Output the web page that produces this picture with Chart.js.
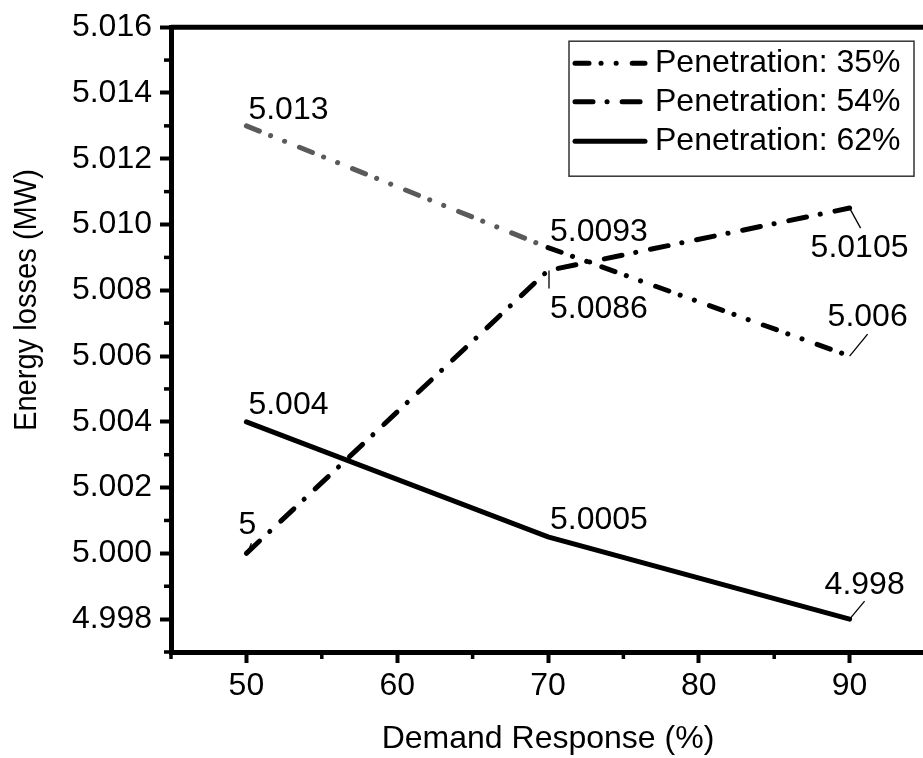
<!DOCTYPE html>
<html>
<head>
<meta charset="utf-8">
<script src="https://cdn.jsdelivr.net/npm/chart.js@4.4.1/dist/chart.umd.min.js"></script>
<style>
  html, body { margin: 0; padding: 0; background: #fff; overflow: hidden; }
</style>
</head>
<body>
<canvas id="lossChart" width="932" height="758"></canvas>
<script>
// data
const demandResponse = [50, 70, 90];
const pen35 = [5.013, 5.0093, 5.006];
const pen54 = [5.000, 5.0086, 5.0105];
const pen62 = [5.004, 5.0005, 4.998];
const seriesNames = ['Penetration: 35%', 'Penetration: 54%', 'Penetration: 62%'];

const xMajorTicks = [50, 60, 70, 80, 90];
const xMinorTicks = [45, 55, 65, 75, 85, 95];
const yMajorTicks = [4.998, 5.000, 5.002, 5.004, 5.006, 5.008, 5.010, 5.012, 5.014, 5.016];
const yMinorTicks = [4.997, 4.999, 5.001, 5.003, 5.005, 5.007, 5.009, 5.011, 5.013, 5.015];

const FONT = '"Liberation Sans", Arial, sans-serif';
Chart.defaults.font.family = FONT;
Chart.defaults.color = '#000';

const toPoints = ys => demandResponse.map((x, i) => ({ x: x, y: ys[i] }));

// where each value label sits relative to its point: [dx, dy, leader line or null]
const labelPlaces = [
  [[2, -7, null], [2, -7, null], [-22, -30, [0, 0, 18, -22]]],
  [[-8, -19, [1, 0, 5, -10]], [2, 47, [1, 0, 1, 18]], [-39, 49, [0, 0, 11, 20]]],
  [[2, -8, null], [2, -8, null], [-25, -25, [0, 0, 15, -18]]]
];

const extras = {
  id: 'extras',
  afterDatasetsDraw(chart) {
    const ctx = chart.ctx;
    const area = chart.chartArea;
    const xs = chart.scales.x, ys = chart.scales.y;

    ctx.save();
    ctx.strokeStyle = '#000';

    // top frame line
    ctx.lineWidth = 5;
    ctx.beginPath();
    ctx.moveTo(area.left, area.top);
    ctx.lineTo(area.right + 10, area.top);
    ctx.stroke();

    // minor ticks
    ctx.lineWidth = 3.5;
    xMinorTicks.forEach(v => {
      const px = xs.getPixelForValue(v);
      ctx.beginPath();
      ctx.moveTo(px, area.bottom);
      ctx.lineTo(px, area.bottom + 7);
      ctx.stroke();
    });
    yMinorTicks.forEach(v => {
      const py = ys.getPixelForValue(v);
      ctx.beginPath();
      ctx.moveTo(area.left, py);
      ctx.lineTo(area.left - 7, py);
      ctx.stroke();
    });

    // value labels
    ctx.fillStyle = '#000';
    ctx.font = '32px ' + FONT;
    ctx.textAlign = 'left';
    ctx.textBaseline = 'alphabetic';
    ctx.lineWidth = 1.3;
    chart.data.datasets.forEach((ds, di) => {
      const meta = chart.getDatasetMeta(di);
      meta.data.forEach((pt, i) => {
        const [dx, dy, lead] = labelPlaces[di][i];
        ctx.fillText(String(ds.data[i].y), pt.x + dx, pt.y + dy);
        if (lead) {
          ctx.beginPath();
          ctx.moveTo(pt.x + lead[0], pt.y + lead[1]);
          ctx.lineTo(pt.x + lead[2], pt.y + lead[3]);
          ctx.stroke();
        }
      });
    });

    // legend
    const lx = area.right - 356, ly = area.top + 14;
    ctx.lineWidth = 1.5;
    ctx.strokeStyle = '#333';
    ctx.strokeRect(lx, ly, 345, 135);
    const rows = [22, 60.5, 100];
    chart.data.datasets.forEach((ds, di) => {
      const ry = ly + rows[di];
      ctx.save();
      ctx.strokeStyle = '#000';
      ctx.lineWidth = ds.borderWidth;
      ctx.lineCap = ds.borderCapStyle;
      ctx.setLineDash(ds.borderDash || []);
      ctx.beginPath();
      ctx.moveTo(lx + 6, ry);
      ctx.lineTo(lx + 76, ry);
      ctx.stroke();
      ctx.restore();
      ctx.textBaseline = 'middle';
      ctx.fillText(ds.label, lx + 86, ry);
    });

    // y axis title
    ctx.save();
    ctx.translate(27, 300);
    ctx.rotate(-Math.PI / 2);
    ctx.textAlign = 'center';
    ctx.textBaseline = 'middle';
    ctx.fillText('Energy losses (MW)', 0, 0, 262);
    ctx.restore();

    ctx.restore();
  }
};

new Chart(document.getElementById('lossChart').getContext('2d'), {
  type: 'line',
  data: {
    datasets: [
      {
        label: seriesNames[0],
        data: toPoints(pen35),
        borderColor: '#000',
        borderWidth: 5,
        borderDash: [14, 12, 0.1, 15, 0.1, 16],
        borderCapStyle: 'round',
        segment: {
          borderColor: c => c.p0DataIndex === 0 ? '#5a5a5a' : '#000'
        }
      },
      {
        label: seriesNames[1],
        data: toPoints(pen54),
        borderColor: '#000',
        borderWidth: 5,
        borderDash: [18, 14, 0.1, 15],
        borderCapStyle: 'round'
      },
      {
        label: seriesNames[2],
        data: toPoints(pen62),
        borderColor: '#000',
        borderWidth: 5,
        borderCapStyle: 'round'
      }
    ]
  },
  options: {
    responsive: false,
    animation: false,
    elements: { point: { radius: 0 }, line: { tension: 0, fill: false } },
    layout: { padding: { top: 27, right: 7, left: 0, bottom: 0 } },
    plugins: { legend: { display: false }, tooltip: { enabled: false } },
    scales: {
      x: {
        type: 'linear',
        min: 45,
        max: 95,
        afterFit: s => { s.height = 106; },
        afterBuildTicks: s => { s.ticks = xMajorTicks.map(v => ({ value: v })); },
        border: { color: '#000', width: 5 },
        grid: { drawOnChartArea: false, drawTicks: true, tickLength: 11, tickWidth: 4, tickColor: '#000' },
        ticks: { font: { size: 32 }, padding: 4, maxRotation: 0, callback: v => String(v) },
        title: { display: true, text: 'Demand Response (%)', font: { size: 32 }, padding: { top: 0, bottom: 0 } }
      },
      y: {
        type: 'linear',
        min: 4.997,
        max: 5.016,
        afterFit: s => { s.width = 171; },
        afterBuildTicks: s => { s.ticks = yMajorTicks.map(v => ({ value: v })); },
        border: { color: '#000', width: 5 },
        grid: { drawOnChartArea: false, drawTicks: true, tickLength: 11, tickWidth: 4, tickColor: '#000' },
        ticks: { font: { size: 32 }, padding: 8, callback: v => v.toFixed(3) }
      }
    }
  },
  plugins: [extras]
});
</script>
</body>
</html>
